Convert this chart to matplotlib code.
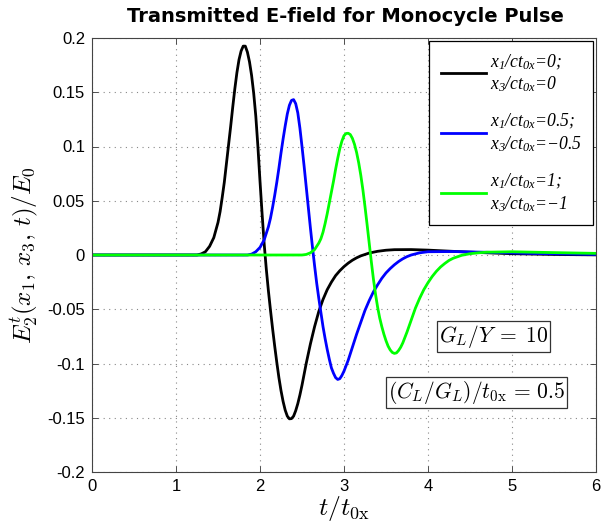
import numpy as np
import matplotlib
matplotlib.use("Agg")
import matplotlib.pyplot as plt
from matplotlib.font_manager import FontProperties

# values (t / t0x , E / E0)
t_black = [0, 1.25, 1.3, 1.35, 1.4, 1.45, 1.5, 1.525, 1.55, 1.575, 1.6, 1.625, 1.65, 1.675,
           1.7, 1.725, 1.75, 1.775, 1.8, 1.825, 1.85, 1.875, 1.9, 1.925, 1.95, 1.975, 2.0,
           2.025, 2.05, 2.075, 2.1, 2.125, 2.15, 2.175, 2.2, 2.225, 2.25, 2.275, 2.3, 2.325,
           2.35, 2.375, 2.4, 2.425, 2.45, 2.475, 2.5, 2.55, 2.6, 2.65, 2.7, 2.75, 2.8, 2.85,
           2.9, 2.95, 3.0, 3.05, 3.1, 3.15, 3.2, 3.3, 3.4, 3.5, 3.6, 3.8, 4.0, 4.5, 5.0, 5.5, 6.0]
e_black = [0, 0, 0.001, 0.003, 0.008, 0.016, 0.03, 0.04, 0.053, 0.067, 0.084, 0.101, 0.118,
           0.136, 0.153, 0.168, 0.18, 0.188, 0.1925, 0.1925, 0.187, 0.178, 0.1655, 0.149,
           0.128, 0.1, 0.068, 0.038, 0.01, -0.013, -0.033, -0.051, -0.068, -0.084, -0.099,
           -0.113, -0.125, -0.135, -0.143, -0.1485, -0.151, -0.1508, -0.1485, -0.1435, -0.137,
           -0.129, -0.12, -0.1, -0.082, -0.066, -0.052, -0.041, -0.032, -0.025, -0.019,
           -0.0145, -0.0107, -0.0075, -0.0048, -0.0026, -0.0008, 0.0018, 0.0034, 0.0044,
           0.0049, 0.005, 0.0045, 0.0026, 0.0012, 0.0005, 0.0001]

t_blue = [0, 1.85, 1.9, 1.95, 2.0, 2.05, 2.1, 2.125, 2.15, 2.175, 2.2, 2.225, 2.25, 2.275,
          2.3, 2.325, 2.35, 2.375, 2.4, 2.425, 2.45, 2.475, 2.5, 2.525, 2.55, 2.575, 2.6,
          2.625, 2.65, 2.675, 2.7, 2.725, 2.75, 2.775, 2.8, 2.825, 2.85, 2.875, 2.9, 2.925,
          2.95, 2.975, 3.0, 3.05, 3.1, 3.15, 3.2, 3.25, 3.3, 3.35, 3.4, 3.45, 3.5, 3.55, 3.6,
          3.65, 3.7, 3.75, 3.8, 3.9, 4.0, 4.3, 4.7, 5.2, 6.0]
e_blue = [0, 0, 0.0008, 0.003, 0.007, 0.014, 0.026, 0.034, 0.044, 0.055, 0.067, 0.08, 0.094,
          0.107, 0.119, 0.13, 0.138, 0.1425, 0.1432, 0.1395, 0.131, 0.117, 0.1, 0.082, 0.063,
          0.044, 0.025, 0.007, -0.01, -0.026, -0.04, -0.053, -0.066, -0.077, -0.087, -0.096,
          -0.104, -0.109, -0.113, -0.1147, -0.114, -0.111, -0.107, -0.097, -0.085, -0.073,
          -0.062, -0.051, -0.042, -0.034, -0.0275, -0.0215, -0.0165, -0.0125, -0.009, -0.006,
          -0.0035, -0.0015, 0.0, 0.002, 0.003, 0.0032, 0.0025, 0.0015, 0.0005]

t_green = [0, 2.5, 2.55, 2.6, 2.65, 2.7, 2.725, 2.75, 2.775, 2.8, 2.825, 2.85, 2.875, 2.9,
           2.925, 2.95, 2.975, 3.0, 3.025, 3.05, 3.075, 3.1, 3.125, 3.15, 3.175, 3.2, 3.225,
           3.25, 3.275, 3.3, 3.325, 3.35, 3.375, 3.4, 3.425, 3.45, 3.475, 3.5, 3.525, 3.55,
           3.575, 3.6, 3.625, 3.65, 3.675, 3.7, 3.75, 3.8, 3.85, 3.9, 3.95, 4.0, 4.05, 4.1,
           4.15, 4.2, 4.25, 4.3, 4.4, 4.5, 4.6, 4.7, 5.0, 5.5, 6.0]
e_green = [0, 0, 0.0005, 0.002, 0.005, 0.011, 0.015, 0.021, 0.029, 0.038, 0.048, 0.058,
           0.068, 0.079, 0.089, 0.098, 0.105, 0.11, 0.112, 0.1122, 0.111, 0.1075, 0.102,
           0.0945, 0.085, 0.0735, 0.06, 0.0445, 0.028, 0.011, -0.006, -0.022, -0.036, -0.048,
           -0.058, -0.066, -0.073, -0.079, -0.084, -0.0875, -0.0898, -0.0907, -0.0902, -0.088,
           -0.085, -0.081, -0.071, -0.06, -0.049, -0.04, -0.032, -0.0255, -0.0198, -0.015,
           -0.011, -0.0078, -0.005, -0.003, -0.0003, 0.0012, 0.002, 0.0026, 0.003, 0.0022, 0.0015]

labels = [r"x$_1$/ct$_{0x}$=0;" "\n" r"x$_3$/ct$_{0x}$=0",
          r"x$_1$/ct$_{0x}$=0.5;" "\n" r"x$_3$/ct$_{0x}$=$-$0.5",
          r"x$_1$/ct$_{0x}$=1;" "\n" r"x$_3$/ct$_{0x}$=$-$1"]
colors = ["#000000", "#0000ff", "#00ff00"]

xticks = [0, 1, 2, 3, 4, 5, 6]
yticks = [-0.2, -0.15, -0.1, -0.05, 0, 0.05, 0.1, 0.15, 0.2]
yticklabels = ["-0.2", "-0.15", "-0.1", "-0.05", "0", "0.05", "0.1", "0.15", "0.2"]

plt.rcParams["font.family"] = ["Liberation Sans", "DejaVu Sans"]
plt.rcParams["mathtext.fontset"] = "custom"
plt.rcParams["mathtext.rm"] = "Liberation Serif:italic"
plt.rcParams["mathtext.it"] = "Liberation Serif:italic"

fig = plt.figure(figsize=(6.02, 5.27), dpi=100)
ax = fig.add_axes([92 / 602, 55 / 527, 504 / 602, 434 / 527])

for t, e, c, lab in zip([t_black, t_blue, t_green], [e_black, e_blue, e_green], colors, labels):
    ax.plot(t, e, color=c, lw=2, label=lab)

ax.set_xlim(0, 6)
ax.set_ylim(-0.2, 0.2)
ax.set_xticks(xticks)
ax.set_xticklabels([str(v) for v in xticks])
ax.set_yticks(yticks)
ax.set_yticklabels(yticklabels)
ax.tick_params(direction="in", top=True, right=True, labelsize=12, length=4, width=0.6,
               colors="#333333", pad=5)
ax.tick_params(labelcolor="black")
for s in ax.spines.values():
    s.set_color("#444444")
    s.set_linewidth(0.8)
ax.grid(True, linestyle=(0, (1, 4)), color="#888888", lw=0.8)

ax.set_xlabel(r"$t/t_{0\mathrm{x}}$", fontsize=18.5, math_fontfamily="cm", labelpad=0)
ax.set_ylabel(r"$E_2^t(x_1,\,x_3,\,t)/E_0$", fontsize=18, math_fontfamily="cm", labelpad=5)
fig.text(345 / 602, 1 - 17 / 527, "Transmitted E-field for Monocycle Pulse",
         ha="center", va="center", fontsize=14, fontweight="bold", family="DejaVu Sans")

leg = ax.legend(loc="upper right", prop=FontProperties(family="Liberation Serif", style="italic", size=12.7),
                fancybox=False, framealpha=1, edgecolor="black", borderaxespad=0.15,
                handlelength=2.6, handletextpad=0.2, labelspacing=1.0, borderpad=0.65)
leg.get_frame().set_linewidth(0.9)

box = dict(boxstyle="square,pad=0.08", fc="white", ec="#333333", lw=0.9)
ax.text((493.5 - 92) / 504, (527 - 336.5 - 55) / 434, r"$G_L/Y\;=\;10$", transform=ax.transAxes,
        ha="center", va="center", fontsize=15.5, math_fontfamily="cm", bbox=box)
ax.text((476.5 - 92) / 504, (527 - 392.5 - 55) / 434, r"$(C_L/G_L)/t_{0\mathrm{x}}\,=\,0.5$",
        transform=ax.transAxes, ha="center", va="center", fontsize=15.5, math_fontfamily="cm", bbox=box)

fig.savefig("out.png", dpi=100)
